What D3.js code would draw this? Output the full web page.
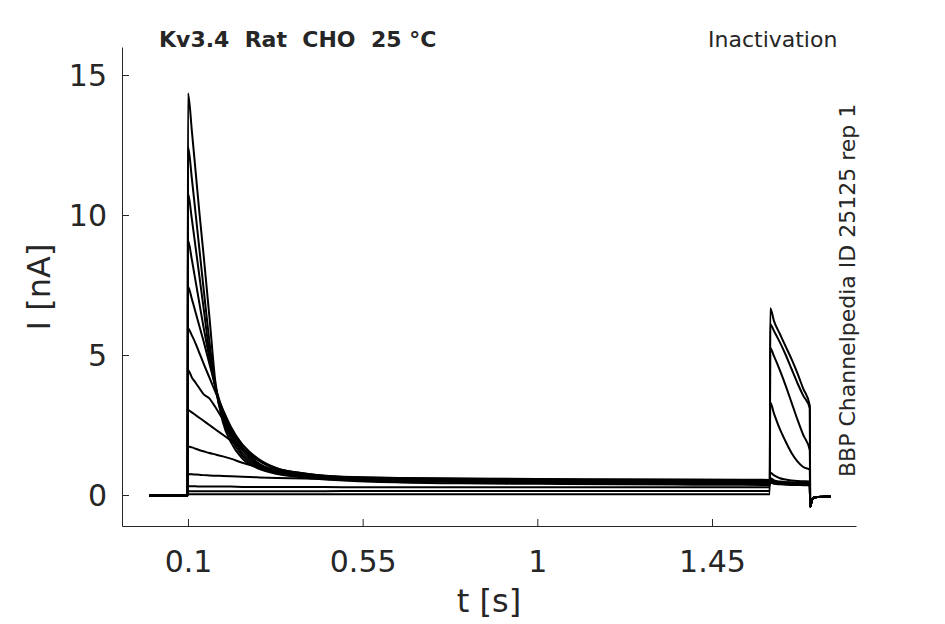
<!DOCTYPE html>
<html>
<head>
<meta charset="utf-8">
<script src="https://cdn.jsdelivr.net/npm/d3@7"></script>
<style>
  body { margin: 0; background: #fff; }
  text { font-family: "DejaVu Sans", sans-serif; fill: #262626; }
</style>
</head>
<body>
<svg class="mainsvg" width="945" height="624"></svg>
<script>
// sample times (s), shared by every sweep
var times = [0, 0.099, 0.1, 0.11, 0.12, 0.13, 0.14, 0.155, 0.17, 0.19, 0.21, 0.24, 0.28, 0.33, 0.4, 0.5,
             0.65, 0.8, 1.0, 1.2, 1.4, 1.599, 1.6, 1.61, 1.625, 1.64, 1.655, 1.67, 1.685, 1.702,
             1.703, 1.708, 1.715, 1.755];

// current (nA) per sweep
var sweep1  = [-0.02, -0.02, 14.35, 13.0, 11.5, 10.0, 8.6, 6.4, 4.1, 2.6, 1.9, 1.3, 0.95, 0.75, 0.62, 0.52,
               0.45, 0.42, 0.4, 0.38, 0.37, 0.36, 0.45, 0.4, 0.38, 0.37, 0.36, 0.36, 0.35, 0.35,
               -0.42, -0.15, -0.08, -0.05];
var sweep2  = [-0.02, -0.02, 12.44, 11.3, 10.0, 8.7, 7.4, 5.5, 3.9, 2.7, 2.05, 1.4, 1.0, 0.8, 0.66, 0.55,
               0.49, 0.46, 0.44, 0.42, 0.41, 0.4, 0.48, 0.42, 0.4, 0.39, 0.38, 0.38, 0.37, 0.37,
               -0.42, -0.15, -0.08, -0.05];
var sweep3  = [-0.02, -0.02, 10.77, 9.85, 8.8, 7.75, 6.7, 5.1, 3.9, 2.8, 2.15, 1.5, 1.05, 0.82, 0.68, 0.57,
               0.52, 0.49, 0.47, 0.45, 0.44, 0.43, 0.5, 0.44, 0.42, 0.41, 0.4, 0.4, 0.39, 0.39,
               -0.42, -0.15, -0.08, -0.05];
var sweep4  = [-0.02, -0.02, 9.1, 8.4, 7.6, 6.8, 6.0, 4.9, 3.9, 2.9, 2.25, 1.6, 1.1, 0.85, 0.7, 0.59,
               0.54, 0.52, 0.5, 0.48, 0.47, 0.46, 0.5, 0.45, 0.43, 0.42, 0.41, 0.41, 0.4, 0.4,
               -0.42, -0.15, -0.08, -0.05];
var sweep5  = [-0.02, -0.02, 7.44, 7.0, 6.5, 6.0, 5.5, 4.7, 3.9, 3.0, 2.35, 1.7, 1.15, 0.88, 0.72, 0.61,
               0.56, 0.54, 0.52, 0.5, 0.49, 0.48, 0.52, 0.46, 0.44, 0.43, 0.42, 0.42, 0.41, 0.41,
               -0.42, -0.15, -0.08, -0.05];
var sweep6  = [-0.02, -0.02, 5.95, 5.7, 5.4, 5.05, 4.7, 4.2, 3.7, 3.05, 2.45, 1.8, 1.25, 0.92, 0.75, 0.63,
               0.58, 0.56, 0.54, 0.52, 0.51, 0.5, 0.53, 0.47, 0.45, 0.44, 0.43, 0.43, 0.42, 0.42,
               -0.42, -0.15, -0.08, -0.05];
var sweep7  = [-0.02, -0.02, 4.46, 4.2, 4.0, 3.8, 3.6, 3.45, 3.15, 2.7, 2.3, 1.8, 1.3, 0.95, 0.77, 0.64,
               0.6, 0.58, 0.56, 0.54, 0.53, 0.52, 0.55, 0.48, 0.46, 0.45, 0.44, 0.44, 0.43, 0.43,
               -0.42, -0.15, -0.08, -0.05];
var sweep8  = [-0.02, -0.02, 3.04, 2.95, 2.85, 2.75, 2.65, 2.5, 2.35, 2.15, 1.95, 1.65, 1.25, 0.95, 0.77, 0.65,
               0.61, 0.59, 0.57, 0.56, 0.55, 0.54, 0.6, 0.52, 0.48, 0.46, 0.45, 0.44, 0.44, 0.44,
               -0.42, -0.15, -0.08, -0.05];
var sweep9  = [-0.02, -0.02, 1.73, 1.7, 1.65, 1.6, 1.56, 1.5, 1.45, 1.38, 1.3, 1.15, 1.0, 0.85, 0.72, 0.6,
               0.55, 0.52, 0.5, 0.49, 0.48, 0.47, 0.8, 0.7, 0.6, 0.55, 0.52, 0.5, 0.49, 0.48,
               -0.42, -0.15, -0.08, -0.05];
var sweep10 = [-0.02, -0.02, 0.75, 0.74, 0.73, 0.72, 0.71, 0.7, 0.69, 0.68, 0.67, 0.65, 0.63, 0.61, 0.59, 0.57,
               0.55, 0.54, 0.53, 0.52, 0.52, 0.51, 3.3, 2.9, 2.35, 1.9, 1.5, 1.2, 1.0, 0.9,
               -0.42, -0.15, -0.08, -0.05];
var sweep11 = [-0.02, -0.02, 0.32, 0.31, 0.31, 0.3, 0.3, 0.3, 0.3, 0.3, 0.3, 0.29, 0.29, 0.29, 0.29, 0.28,
               0.28, 0.28, 0.28, 0.28, 0.28, 0.28, 5.25, 4.95, 4.45, 3.9, 3.3, 2.7, 2.15, 1.6,
               -0.42, -0.15, -0.08, -0.05];
var sweep12 = [-0.02, -0.02, 0.13, 0.13, 0.13, 0.13, 0.13, 0.13, 0.13, 0.13, 0.13, 0.13, 0.13, 0.13, 0.13, 0.14,
               0.14, 0.14, 0.14, 0.14, 0.14, 0.14, 6.1, 5.85, 5.45, 5.0, 4.5, 4.0, 3.55, 3.1,
               -0.42, -0.15, -0.08, -0.05];
var sweep13 = [-0.02, -0.02, 0.03, 0.03, 0.03, 0.03, 0.03, 0.03, 0.03, 0.03, 0.03, 0.03, 0.03, 0.03, 0.03, 0.03,
               0.03, 0.03, 0.03, 0.03, 0.03, 0.03, 6.67, 6.2, 5.75, 5.3, 4.85, 4.35, 3.8, 3.2,
               -0.42, -0.15, -0.08, -0.05];

var sweeps = [sweep1, sweep2, sweep3, sweep4, sweep5, sweep6, sweep7, sweep8, sweep9, sweep10, sweep11, sweep12, sweep13];

var xTicks = [0.1, 0.55, 1, 1.45];
var yTicks = [0, 5, 10, 15];

var svg = d3.select(".mainsvg");

var x = d3.scaleLinear().domain([-0.07, 1.821]).range([122, 856]);
var y = d3.scaleLinear().domain([-1.107, 16]).range([526, 47]);

// sweeps
var line = d3.line()
    .x(function (d, i) { return x(times[i]); })
    .y(function (d) { return y(d); })
    .curve(d3.curveMonotoneX);

svg.selectAll(".sweep")
    .data(sweeps)
    .enter().append("path")
    .attr("class", "sweep")
    .attr("d", line)
    .attr("fill", "none")
    .attr("stroke", "#000")
    .attr("stroke-width", 2)
    .attr("stroke-linejoin", "round");

// axes, ticks pointing inward
var xAxis = svg.append("g")
    .attr("transform", "translate(0,526)")
    .call(d3.axisBottom(x).tickValues(xTicks).tickSize(-7).tickSizeOuter(0)
          .tickFormat(function (d) { return String(d); }));
var yAxis = svg.append("g")
    .attr("transform", "translate(122,0)")
    .call(d3.axisLeft(y).tickValues(yTicks).tickSize(-7).tickSizeOuter(0));

[xAxis, yAxis].forEach(function (g) {
    g.select(".domain").attr("stroke", "#262626");
    g.selectAll(".tick line").attr("stroke", "#262626");
    g.selectAll(".tick text")
        .attr("fill", "#262626")
        .style("font-size", "30px")
        .style("font-family", "DejaVu Sans");
});
xAxis.selectAll(".tick text").attr("y", 0).attr("dy", 0)
    .attr("transform", "translate(0,46)");
yAxis.selectAll(".tick text").attr("x", -15).attr("dy", "0.36em");

// labels
svg.append("text")
    .attr("x", 489).attr("y", 612)
    .attr("text-anchor", "middle")
    .style("font-size", "32px")
    .text("t [s]");

svg.append("text")
    .attr("transform", "translate(50,287) rotate(-90)")
    .attr("text-anchor", "middle")
    .style("font-size", "32px")
    .text("I [nA]");

svg.append("text")
    .attr("x", 159).attr("y", 47)
    .style("font-size", "22px")
    .style("font-weight", "bold")
    .style("white-space", "pre")
    .attr("fill", "#000")
    .text("Kv3.4  Rat  CHO  25 °C");

svg.append("text")
    .attr("x", 708).attr("y", 47)
    .style("font-size", "22px")
    .text("Inactivation");

svg.append("text")
    .attr("transform", "translate(855,477) rotate(-90)")
    .style("font-size", "22px")
    .text("BBP Channelpedia ID 25125 rep 1");
</script>
</body>
</html>
